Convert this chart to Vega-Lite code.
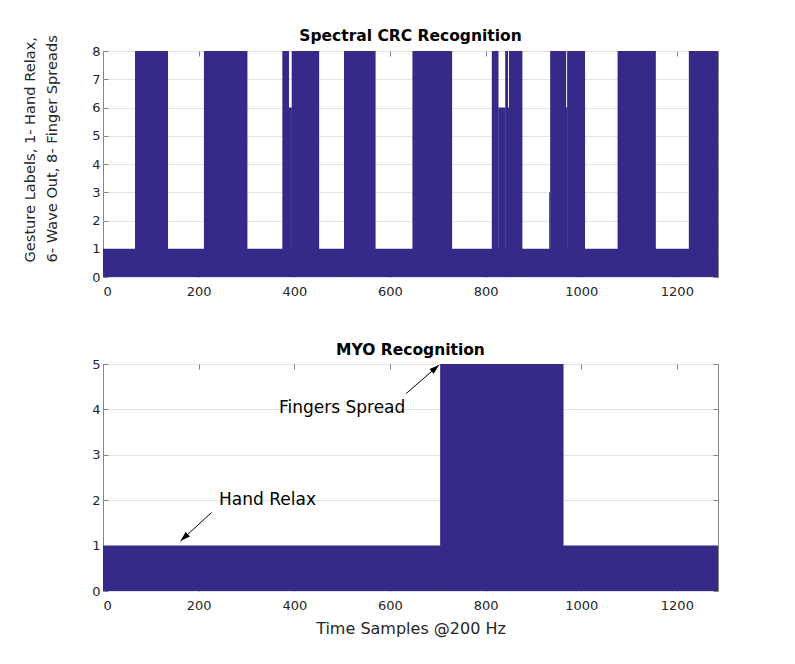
{
  "$schema": "https://vega.github.io/schema/vega-lite/v6.json",
  "background": "white",
  "padding": {"left": 22, "top": 28, "right": 5, "bottom": 5},
  "spacing": 43,
  "config": {
    "font": "DejaVu Sans",
    "view": {"stroke": "#858585", "strokeWidth": 1},
    "axis": {
      "labelFont": "DejaVu Sans",
      "labelFontSize": 13,
      "labelColor": "#262626",
      "tickColor": "#858585",
      "tickSize": -5,
      "domain": false,
      "grid": false,
      "format": "d",
      "titleFont": "DejaVu Sans",
      "titleFontWeight": "normal",
      "titleColor": "#262626"
    },
    "axisX": {"labelPadding": 13},
    "axisY": {"labelPadding": 8},
    "title": {"font": "DejaVu Sans", "fontSize": 15.5, "fontWeight": "bold", "color": "#000000"}
  },
  "vconcat": [
    {
      "title": {"text": "Spectral CRC Recognition", "offset": -10},
      "width": 615,
      "height": 226,
      "data": {
        "values": [
          {"from": 0, "to": 1286, "gesture": 1},
          {"from": 67, "to": 136, "gesture": 8},
          {"from": 211, "to": 302, "gesture": 8},
          {"from": 375, "to": 389, "gesture": 8},
          {"from": 388.5, "to": 395, "gesture": 6},
          {"from": 394.5, "to": 452, "gesture": 8},
          {"from": 504, "to": 570, "gesture": 8},
          {"from": 647, "to": 730, "gesture": 8},
          {"from": 813, "to": 827, "gesture": 8},
          {"from": 826.5, "to": 841.5, "gesture": 6},
          {"from": 841, "to": 847, "gesture": 8},
          {"from": 846.5, "to": 849.5, "gesture": 6},
          {"from": 849, "to": 877, "gesture": 8},
          {"from": 933, "to": 935.5, "gesture": 3},
          {"from": 935, "to": 968.5, "gesture": 8},
          {"from": 968, "to": 971, "gesture": 6},
          {"from": 970.5, "to": 1008, "gesture": 8},
          {"from": 1076, "to": 1156, "gesture": 8},
          {"from": 1225, "to": 1286, "gesture": 8}
        ]
      },
      "layer": [
        {
          "mark": {"type": "rect", "color": "#352A87"},
          "encoding": {
            "x": {"field": "from", "type": "quantitative", "scale": {"domain": [0, 1286], "nice": false},
                  "axis": {"orient": "bottom", "title": null, "values": [0, 200, 400, 600, 800, 1000, 1200]}},
            "x2": {"field": "to"},
            "y": {"field": "gesture", "type": "quantitative", "scale": {"domain": [0, 8], "nice": false},
                  "axis": {"orient": "left", "values": [0, 1, 2, 3, 4, 5, 6, 7, 8], "grid": true, "gridColor": "#e3e3e3",
                           "title": ["Gesture Labels, 1- Hand Relax,", "6- Wave Out, 8- Finger Spreads"],
                           "titleFontSize": 14.6, "titleLineHeight": 22, "titlePadding": 32,
                           "titleAlign": "left", "titleY": 211}},
            "y2": {"datum": 0}
          }
        },
        {
          "mark": {"type": "rect", "opacity": 0},
          "encoding": {
            "x": {"field": "from", "type": "quantitative",
                  "axis": {"orient": "top", "title": null, "labels": false, "values": [0, 200, 400, 600, 800, 1000, 1200]}},
            "x2": {"field": "to"},
            "y": {"field": "gesture", "type": "quantitative",
                  "axis": {"orient": "right", "title": null, "labels": false, "values": [0, 1, 2, 3, 4, 5, 6, 7, 8]}},
            "y2": {"datum": 0}
          }
        }
      ],
      "resolve": {"axis": {"x": "independent", "y": "independent"}}
    },
    {
      "title": {"text": "MYO Recognition", "offset": 0},
      "width": 615,
      "height": 227,
      "layer": [
        {
          "data": {
            "values": [
              {"from": 0, "to": 1286, "gesture": 1},
              {"from": 705, "to": 963, "gesture": 5}
            ]
          },
          "layer": [
            {
              "mark": {"type": "rect", "color": "#352A87"},
              "encoding": {
                "x": {"field": "from", "type": "quantitative", "scale": {"domain": [0, 1286], "nice": false},
                      "axis": {"orient": "bottom", "title": "Time Samples @200 Hz", "titleFontSize": 16, "titlePadding": 8,
                               "values": [0, 200, 400, 600, 800, 1000, 1200]}},
                "x2": {"field": "to"},
                "y": {"field": "gesture", "type": "quantitative", "scale": {"domain": [0, 5], "nice": false},
                      "axis": {"orient": "left", "title": null, "values": [0, 1, 2, 3, 4, 5], "grid": true, "gridColor": "#e3e3e3"}},
                "y2": {"datum": 0}
              }
            },
            {
              "mark": {"type": "rect", "opacity": 0},
              "encoding": {
                "x": {"field": "from", "type": "quantitative",
                      "axis": {"orient": "top", "title": null, "labels": false, "values": [0, 200, 400, 600, 800, 1000, 1200]}},
                "x2": {"field": "to"},
                "y": {"field": "gesture", "type": "quantitative",
                      "axis": {"orient": "right", "title": null, "labels": false, "values": [0, 1, 2, 3, 4, 5]}},
                "y2": {"datum": 0}
              }
            }
          ],
          "resolve": {"axis": {"x": "independent", "y": "independent"}}
        },
        {
          "data": {
            "values": [
              {"label": "Fingers Spread", "textX": 500, "textY": 4.04, "tailX": 634, "tailY": 4.35, "tipX": 703, "tipY": 4.98},
              {"label": "Hand Relax", "textX": 344, "textY": 2.0, "tailX": 227, "tailY": 1.73, "tipX": 162, "tipY": 1.1}
            ]
          },
          "layer": [
            {
              "mark": {"type": "rule", "color": "#000000", "strokeWidth": 1},
              "encoding": {
                "x": {"field": "tailX", "type": "quantitative", "axis": null},
                "y": {"field": "tailY", "type": "quantitative", "axis": null},
                "x2": {"field": "tipX"},
                "y2": {"field": "tipY"}
              }
            },
            {
              "transform": [{"filter": "datum.label == 'Fingers Spread'"}],
              "mark": {"type": "point", "shape": "M0,0L-0.32,1L0.32,1Z", "filled": true, "color": "#000000", "opacity": 1, "size": 400, "angle": 49.6},
              "encoding": {
                "x": {"field": "tipX", "type": "quantitative", "axis": null},
                "y": {"field": "tipY", "type": "quantitative", "axis": null}
              }
            },
            {
              "transform": [{"filter": "datum.label == 'Hand Relax'"}],
              "mark": {"type": "point", "shape": "M0,0L-0.32,1L0.32,1Z", "filled": true, "color": "#000000", "opacity": 1, "size": 400, "angle": 227.2},
              "encoding": {
                "x": {"field": "tipX", "type": "quantitative", "axis": null},
                "y": {"field": "tipY", "type": "quantitative", "axis": null}
              }
            },
            {
              "mark": {"type": "text", "fontSize": 17, "color": "#000000", "align": "center", "baseline": "middle"},
              "encoding": {
                "x": {"field": "textX", "type": "quantitative", "axis": null},
                "y": {"field": "textY", "type": "quantitative", "axis": null},
                "text": {"field": "label"}
              }
            }
          ]
        }
      ]
    }
  ]
}
